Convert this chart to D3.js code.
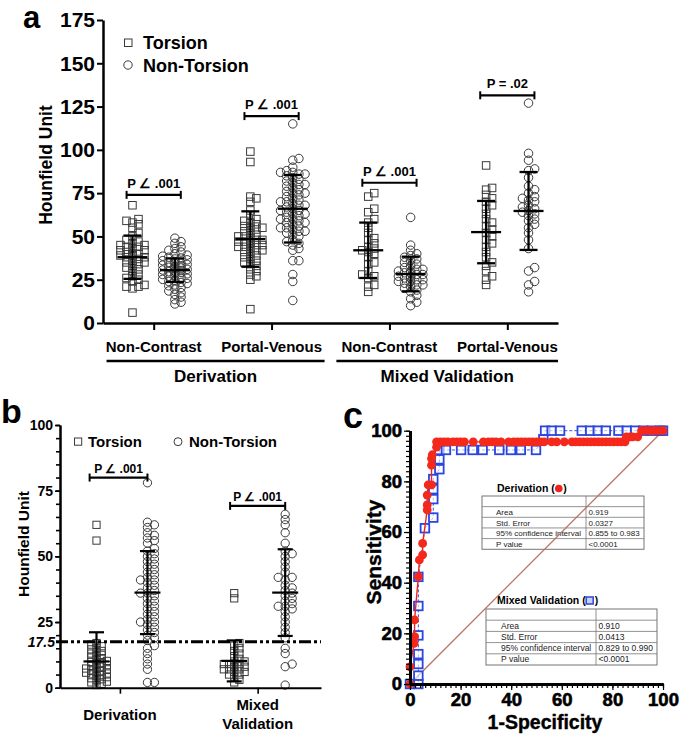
<!DOCTYPE html>
<html><head><meta charset="utf-8">
<script src="https://cdn.jsdelivr.net/npm/d3@7"></script>
<style>body{margin:0;background:#fff} svg text{font-family:"Liberation Sans",Arial,sans-serif}</style>
</head><body><script>
// ---------------- DATA ----------------
// Panel a: categories
const aGroupLabels = ["Non-Contrast","Portal-Venous","Non-Contrast","Portal-Venous"];
const aCohortLabels = ["Derivation","Mixed Validation"];
const aYTicks = [0,25,50,75,100,125,150,175];
// Panel a: Torsion values per group
const aTorsionDerivNC = [6,20,21,21,22,24,25,26,27,28,30,31,32,33,34,35,35,36,37,38,38,39,39,40,40,41,42,42,43,44,44,45,45,46,47,48,50,52,55,57,58,59,60,68];
const aTorsionDerivPV = [8,25,27,28,30,31,33,34,35,36,37,38,39,40,41,42,42,43,44,44,45,45,46,46,47,47,48,48,49,50,50,51,52,53,54,55,55,56,57,58,59,60,62,65,70,72,73,93,99];
const aTorsionMixNC = [18,21,22,26,27,28,30,34,35,38,40,41,42,43,44,46,48,49,52,55,58,60,64,66,73,75];
const aTorsionMixPV = [22,25,27,30,33,35,38,41,44,46,48,50,52,54,56,58,60,63,66,68,70,72,74,77,78,91];
// Panel a: Non-Torsion values per group
const aNonDerivNC = [11,12,13.5,15,16.5,17.5,18.5,19.5,20.5,21.5,22,22.8,23.4,24,24.6,25.2,25.8,26.4,27,27.5,28,28.4,28.8,29.2,29.6,30,30.3,30.6,31,31.4,31.8,32.2,32.6,33,33.4,33.8,34.2,34.6,35,35.5,36,36.5,37,37.5,38,38.6,39.2,40,41,42,43,44,46,47,49];
const aNonDerivPV = [13,24,28,36,36,42,43,45,46,47,48,50,51,52,53,53,54,55,55,56,57,58,58,59,60,60,61,62,63,63,64,65,65,66,67,68,68,69,70,70,71,72,73,74,75,75,76,77,78,79,80,80,81,82,83,84,85,86,86,87,87,88,90,94,95,115];
const aNonMixNC = [10,12,14,16,18,19,20,21,22,22,23,24,24,25,25,26,26,27,27,28,28,29,29,30,30,31,31,32,33,34,35,36,37,38,39,40,42,45,61];
const aNonMixPV = [18,22,24,30,32,43,48,52,55,57,59,60,62,63,64,65,66,67,68,70,71,72,73,75,77,79,84,88,89,94,98,127];
// Panel a: mean and SD
const aTorsionMean = [38,48.5,42,52.5];
const aTorsionSD   = [12.5,16,16,18];
const aNonMean     = [30.5,66,28.3,64.7];
const aNonSD       = [6.8,19.5,10,22.5];
const aBracketY    = [74,119.5,81,131.5];
const aPLabels     = ["P \u2220 .001","P \u2220 .001","P \u2220 .001","P = .02"];

// Panel b
const bGroupLabels = [["Derivation"],["Mixed","Validation"]];
const bYTicks = [0,25,50,75,100];
const bThreshold = 17.5;
const bTorsionDeriv = [1,1.5,2,2.3,2.8,3.2,3.6,4,4.4,4.8,5.1,5.4,5.7,6,6.3,6.6,7,7.3,7.6,8,8.3,8.6,9,9.4,9.8,10.2,10.6,11,11.5,12,12.5,13,13.5,14,14.6,15.2,15.8,16.4,17,56,62];
const bNonDeriv = [2,2,7,9,11,13,15,16,18,19,20,21,22,23,24,25,25,26,27,28,29,30,31,32,33,34,35,36,36,37,38,39,40,41,41,42,43,44,45,46,47,48,49,50,51,52,53,55,56,57,58,59,61,62,63,78];
const bTorsionMix = [2,3,4,5,5,6,6,7,7,7,8,8,8,9,9,9,10,10,11,12,13,14,15,16,17,34,36];
const bNonMix = [1,8,9,13,15,19,21,23,25,27,29,30,31,31,32,33,34,35,36,37,38,39,41,42,42,44,46,48,50,51,52,55,59,62,64,66];
const bTorsionMean = [10,10.2];
const bTorsionSD   = [11.1,7.8];
const bNonMean     = [36.2,36.2];
const bNonSD       = [15.8,16.5];
const bBracketY    = [80,69.2];
const bPLabels     = ["P \u2220 .001","P \u2220 .001"];

// Panel c: ROC curves [1-specificity, sensitivity]
const cTicks = [0,20,40,60,80,100];
const cDerivX = [0,0,1.6,1.8,1.8,3.3,3.7,5,5,6.8,6.8,6.8,7.2,8.5,8.5,8.5,8.8,10.5,10.5,12,13.5,15,17,18.5,20,21.5,25,29,31,32.5,34,36,39,41,42.5,44,45.5,47,48.5,50,51.5,53,56,58,61,64,65.5,67,68.5,70,71.5,73,74.5,76,77.5,79,80.5,82,83.5,85,85.5,87,88,90,91.5,93,94.5,96,97,98.5,100];
const cDerivY = [0,6.8,16,18.7,25.3,42.4,49,51,55.5,68.7,70.7,74.6,78.6,78.6,86.4,89,90.5,93.5,95.6,95.6,95.6,95.6,95.6,95.6,95.6,95.6,95.6,95.6,95.6,95.6,95.6,95.6,95.6,95.6,95.6,95.6,95.6,95.6,95.6,95.6,95.6,95.6,95.6,95.6,95.6,95.6,95.6,95.6,95.6,95.6,95.6,95.6,95.6,95.6,95.6,95.6,95.6,95.6,95.6,95.6,97.6,97.6,97.6,97.6,100,100,100,100,100,100,100];
const cMixX = [0,3.3,3.3,3.3,3.3,3.3,3.3,3.3,5.9,9.2,9.2,9.2,9.2,11.6,11.6,11.6,14.2,20.2,24.8,28.7,35.3,39.9,43.8,49.8,52.7,53.4,56,59.3,67.9,71.2,74.2,77.4,82.4,85.7,89,92.2,95.5,98.8,100];
const cMixY = [0,0,3.3,7.9,11.8,19.2,30.8,42.3,61.5,65.7,73,76.9,80.9,84.8,88.7,92.4,92.4,92.4,92.4,92.4,92.4,92.4,92.4,92.4,96.6,100,100,100,100,100,100,100,100,100,100,100,100,100,100];
const cDerivTitle = "Derivation (";
const cMixTitle = "Mixed Validation (";
const cDerivTable = [["",""],["Area","0.919"],["Std. Error","0.0327"],["95% confidence interval","0.855 to 0.983"],["P value","<0.0001"]];
const cMixTable = [["",""],["Area","0.910"],["Std. Error","0.0413"],["95% confidence interval","0.829 to 0.990"],["P value","<0.0001"]];

// ---------------- DRAWING ----------------
const svg = d3.select("body").append("svg").attr("width",685).attr("height",734);
const MK = "#3a3a3a";

function swarm(values, yScale, size, thrY, thrX, stepF, maxOff) {
  const pts = values.map(v => ({v, y: yScale(v)})).sort((a,b)=>b.y-a.y);
  const placed = [];
  const ty = size*thrY, tx = size*thrX, step = size*stepF;
  pts.forEach(p => {
    let best = 0, bestHits = Infinity;
    for (let k=0;k<80;k++){
      const off = k===0 ? 0 : (k%2 ? 1 : -1)*Math.ceil(k/2)*step;
      if (Math.abs(off) > maxOff) break;
      const hits = placed.filter(q => Math.abs(q.y-p.y) < ty && Math.abs(q.dx-off) < tx).length;
      if (hits < bestHits) { bestHits = hits; best = off; }
      if (hits === 0) break;
    }
    p.dx = best;
    placed.push(p);
  });
  return placed;
}
function drawMarkers(g, pts, cx, shape, size, color, sw, fill) {
  if (shape === "square") {
    g.selectAll(null).data(pts).join("rect")
      .attr("x", d=>cx+d.dx-size/2).attr("y", d=>d.y-size/2)
      .attr("width", size).attr("height", size)
      .attr("fill", fill||"none").attr("stroke", color).attr("stroke-width", sw);
  } else {
    g.selectAll(null).data(pts).join("circle")
      .attr("cx", d=>cx+d.dx).attr("cy", d=>d.y).attr("r", size/2)
      .attr("fill", fill||"none").attr("stroke", color).attr("stroke-width", sw);
  }
}
function errBar(g, cx, yScale, mean, sd, meanW, capW, sw) {
  const lo = Math.max(mean-sd, yScale.domain()[0]);
  const yT = yScale(mean+sd), yB = yScale(lo), yM = yScale(mean);
  g.append("line").attr("x1",cx).attr("x2",cx).attr("y1",yT).attr("y2",yB).attr("stroke","#000").attr("stroke-width",sw);
  g.append("line").attr("x1",cx-capW/2).attr("x2",cx+capW/2).attr("y1",yT).attr("y2",yT).attr("stroke","#000").attr("stroke-width",sw);
  if (mean-sd >= yScale.domain()[0])
    g.append("line").attr("x1",cx-capW/2).attr("x2",cx+capW/2).attr("y1",yB).attr("y2",yB).attr("stroke","#000").attr("stroke-width",sw);
  g.append("line").attr("x1",cx-meanW/2).attr("x2",cx+meanW/2).attr("y1",yM).attr("y2",yM).attr("stroke","#000").attr("stroke-width",sw);
}
function bracket(g, x1, x2, y, label, fs, gap) {
  g.append("line").attr("x1",x1).attr("x2",x2).attr("y1",y).attr("y2",y).attr("stroke","#000").attr("stroke-width",2.2);
  [x1,x2].forEach(x=>g.append("line").attr("x1",x).attr("x2",x).attr("y1",y-4).attr("y2",y+4).attr("stroke","#000").attr("stroke-width",2));
  g.append("text").attr("x",(x1+x2)/2).attr("y",y-gap).attr("text-anchor","middle")
    .attr("font-size",fs).attr("font-weight","bold").text(label);
}
function styleAxis(g, sw, fs) {
  g.select(".domain").attr("stroke","#000").attr("stroke-width",sw);
  g.selectAll(".tick line").attr("stroke","#000").attr("stroke-width",sw*0.8);
  g.selectAll(".tick text").attr("font-size",fs).attr("font-weight","bold").attr("fill","#000")
    .attr("font-family",'"Liberation Sans",Arial,sans-serif');
}

// ===== Panel a =====
{
  const g = svg.append("g");
  const x = d3.scaleLinear().domain([-0.43,3.43]).range([103,558]);
  const y = d3.scaleLinear().domain([0,175]).range([323,20]);
  const torsion = [aTorsionDerivNC,aTorsionDerivPV,aTorsionMixNC,aTorsionMixPV];
  const non = [aNonDerivNC,aNonDerivPV,aNonMixNC,aNonMixPV];
  const off = 0.18;
  torsion.forEach((vals,i)=>{
    drawMarkers(g, swarm(vals,y,7.5,0.55,0.75,0.4,15), x(i-off), "square", 7.5, MK, 1);
    drawMarkers(g, swarm(non[i],y,8.5,0.5,0.72,0.36,15), x(i+off), "circle", 8.5, MK, 1);
    errBar(g, x(i-off), y, aTorsionMean[i], aTorsionSD[i], 30, 18, 2.3);
    errBar(g, x(i+off), y, aNonMean[i], aNonSD[i], 30, 18, 2.3);
    bracket(g, x(i-0.23), x(i+0.23), y(aBracketY[i]), aPLabels[i], 13, 7);
  });
  const ya = g.append("g").attr("transform","translate(103,0)")
    .call(d3.axisLeft(y).tickValues(aYTicks).tickSize(6).tickSizeOuter(0).tickPadding(2));
  styleAxis(ya, 2.5, 21);
  const xa = g.append("g").attr("transform","translate(0,323)")
    .call(d3.axisBottom(x).tickValues([0,1,2,3]).tickFormat("").tickSize(7).tickSizeOuter(0));
  styleAxis(xa, 2.5, 12);
  aGroupLabels.forEach((t,i)=>g.append("text").attr("x",x(i)).attr("y",352).attr("text-anchor","middle")
    .attr("font-size",15).attr("font-weight","bold").text(t));
  const cohortSpans = [[-0.4,1.45],[1.55,3.43]];
  aCohortLabels.forEach((t,i)=>{
    const x1=x(cohortSpans[i][0]), x2=x(cohortSpans[i][1]);
    g.append("line").attr("x1",x1).attr("x2",x2).attr("y1",361).attr("y2",361).attr("stroke","#000").attr("stroke-width",2.5);
    g.append("text").attr("x",(x1+x2)/2).attr("y",382).attr("text-anchor","middle")
      .attr("font-size",17).attr("font-weight","bold").text(t);
  });
  g.append("text").attr("transform","translate(52,165) rotate(-90)").attr("text-anchor","middle")
    .attr("font-size",17.5).attr("font-weight","bold").text("Hounfield Unit");
  g.append("rect").attr("x",124.5).attr("y",39).attr("width",7.5).attr("height",7.5).attr("fill","none").attr("stroke",MK);
  g.append("text").attr("x",143).attr("y",49).attr("font-size",18).attr("font-weight","bold").text("Torsion");
  g.append("circle").attr("cx",128).attr("cy",65).attr("r",4.2).attr("fill","none").attr("stroke",MK);
  g.append("text").attr("x",143).attr("y",72).attr("font-size",18).attr("font-weight","bold").text("Non-Torsion");
  g.append("text").attr("x",23).attr("y",28).attr("font-size",31).attr("font-weight","bold").text("a");
}

// ===== Panel b =====
{
  const g = svg.append("g");
  const x = d3.scaleLinear().domain([-0.435,1.46]).range([60,321]);
  const y = d3.scaleLinear().domain([0,100]).range([687.7,425]);
  const torsion = [bTorsionDeriv,bTorsionMix];
  const non = [bNonDeriv,bNonMix];
  torsion.forEach((vals,i)=>{
    drawMarkers(g, swarm(vals,y,7.2,0.5,0.72,0.36,15), x(i-0.17), "square", 7.2, MK, 1);
    drawMarkers(g, swarm(non[i],y,8.3,0.6,0.8,0.42,16), x(i+0.2), "circle", 8.3, MK, 1);
    errBar(g, x(i-0.17), y, bTorsionMean[i], bTorsionSD[i], 26, 15, 2.2);
    errBar(g, x(i+0.2), y, bNonMean[i], bNonSD[i], 26, 15, 2.2);
  });
  bracket(g, x(-0.22), x(0.2), y(bBracketY[0]), bPLabels[0], 12, 5);
  bracket(g, x(0.8), x(1.2), y(bBracketY[1]), bPLabels[1], 12, 5);
  g.append("line").attr("x1",56).attr("x2",321).attr("y1",y(bThreshold)).attr("y2",y(bThreshold))
    .attr("stroke","#000").attr("stroke-width",2.8).attr("stroke-dasharray","12,3,3,3,3,3");
  const minor = g.append("g").attr("transform","translate(60,0)")
    .call(d3.axisLeft(y).tickValues(d3.range(0,101,5)).tickFormat("").tickSize(4).tickSizeOuter(0));
  styleAxis(minor, 2, 10);
  const ya = g.append("g").attr("transform","translate(60,0)")
    .call(d3.axisLeft(y).tickValues(bYTicks).tickSize(5).tickSizeOuter(0).tickPadding(2));
  styleAxis(ya, 2, 14);
  g.append("text").attr("x",55).attr("y",y(bThreshold)).attr("dy","0.35em").attr("text-anchor","end")
    .attr("font-size",14).attr("font-weight","bold").attr("font-style","italic").text(String(bThreshold));
  const xa = g.append("g").attr("transform","translate(0,687.7)")
    .call(d3.axisBottom(x).tickValues([0,1]).tickFormat("").tickSize(6).tickSizeOuter(0));
  styleAxis(xa, 2, 12);
  bGroupLabels.forEach((lines,i)=>{
    const ys = lines.length===1 ? [720] : [710,729];
    lines.forEach((t,j)=>g.append("text").attr("x",x(i)).attr("y",ys[j]).attr("text-anchor","middle")
      .attr("font-size",15).attr("font-weight","bold").text(t));
  });
  g.append("text").attr("transform","translate(29,544) rotate(-90)").attr("text-anchor","middle")
    .attr("font-size",15.5).attr("font-weight","bold").text("Hounfield Unit");
  g.append("rect").attr("x",74.5).attr("y",438).attr("width",7.2).attr("height",7.2).attr("fill","none").attr("stroke",MK);
  g.append("text").attr("x",88).attr("y",447).attr("font-size",15).attr("font-weight","bold").text("Torsion");
  g.append("circle").attr("cx",178).attr("cy",441.7).attr("r",4).attr("fill","none").attr("stroke",MK);
  g.append("text").attr("x",189).attr("y",447).attr("font-size",15).attr("font-weight","bold").text("Non-Torsion");
  g.append("text").attr("x",1).attr("y",423).attr("font-size",34).attr("font-weight","bold").text("b");
}

// ===== Panel c =====
{
  const g = svg.append("g");
  const x = d3.scaleLinear().domain([0,100]).range([410,663]);
  const y = d3.scaleLinear().domain([0,100]).range([684,430.7]);
  function table(x0,x1,xDiv,y0,rowH,rows,fs,padL){
    const tg = g.append("g");
    const h = rowH*rows.length;
    tg.append("rect").attr("x",x0).attr("y",y0).attr("width",x1-x0).attr("height",h)
      .attr("fill","none").attr("stroke","#666").attr("stroke-width",0.9);
    rows.forEach((r,i)=>{
      if (i>0) tg.append("line").attr("x1",x0).attr("x2",x1).attr("y1",y0+i*rowH).attr("y2",y0+i*rowH).attr("stroke","#777").attr("stroke-width",0.8);
      const yy = y0+i*rowH+rowH/2;
      tg.append("text").attr("x",x0+padL).attr("y",yy).attr("dy","0.36em").attr("font-size",fs).attr("fill","#222").text(r[0]);
      tg.append("text").attr("x",xDiv+2.5).attr("y",yy).attr("dy","0.36em").attr("font-size",fs).attr("fill","#222").text(r[1]);
    });
    tg.append("line").attr("x1",xDiv).attr("x2",xDiv).attr("y1",y0).attr("y2",y0+h).attr("stroke","#777").attr("stroke-width",0.8);
  }
  table(482,644,586,496,10.65,cDerivTable,8,14);
  table(486,657,596,609,11.2,cMixTable,8.5,15);
  const t1 = g.append("text").attr("x",497).attr("y",492).attr("font-size",10.5).attr("font-weight","bold").text(cDerivTitle);
  const w1 = t1.node().getComputedTextLength();
  g.append("circle").attr("cx",497+w1+4).attr("cy",488.5).attr("r",3.8).attr("fill","#f0231b");
  g.append("text").attr("x",497+w1+8.5).attr("y",492).attr("font-size",10.5).attr("font-weight","bold").text(")");
  const t2 = g.append("text").attr("x",497).attr("y",604).attr("font-size",10.5).attr("font-weight","bold").text(cMixTitle);
  const w2 = t2.node().getComputedTextLength();
  g.append("rect").attr("x",497+w2+0.5).attr("y",597).attr("width",7).attr("height",7).attr("fill","#c8d0f5").attr("stroke","#2b45d8").attr("stroke-width",1.5);
  g.append("text").attr("x",497+w2+9).attr("y",604).attr("font-size",10.5).attr("font-weight","bold").text(")");
  g.append("line").attr("x1",x(0)).attr("y1",y(0)).attr("x2",x(100)).attr("y2",y(100))
    .attr("stroke","#b87560").attr("stroke-width",1.3);
  const mix = cMixX.map((v,i)=>[v,cMixY[i]]);
  const der = cDerivX.map((v,i)=>[v,cDerivY[i]]);
  const line = d3.line().x(d=>x(d[0])).y(d=>y(d[1]));
  g.append("path").attr("d",line(mix)).attr("fill","none").attr("stroke","#3355dd").attr("stroke-width",1).attr("stroke-dasharray","3,2");
  g.selectAll(null).data(mix).join("rect")
    .attr("x",d=>x(d[0])-4.3).attr("y",d=>y(d[1])-4.3).attr("width",8.6).attr("height",8.6)
    .attr("fill","#fff").attr("fill-opacity",0.6).attr("stroke","#2b45e0").attr("stroke-width",1.8);
  g.append("path").attr("d",line(der)).attr("fill","none").attr("stroke","#f0231b").attr("stroke-width",1.4);
  g.selectAll(null).data(der).join("circle")
    .attr("cx",d=>x(d[0])).attr("cy",d=>y(d[1])).attr("r",4.4).attr("fill","#f5281c");
  const yMinor = g.append("g").attr("transform","translate(410,0)")
    .call(d3.axisLeft(y).tickValues(d3.range(0,101,2)).tickFormat("").tickSize(4).tickSizeOuter(0));
  styleAxis(yMinor, 3, 10);
  const ya = g.append("g").attr("transform","translate(410,0)")
    .call(d3.axisLeft(y).tickValues(cTicks).tickSize(6).tickSizeOuter(0).tickPadding(2));
  styleAxis(ya, 3, 18.5);
  const xMinor = g.append("g").attr("transform","translate(0,684)")
    .call(d3.axisBottom(x).tickValues(d3.range(0,101,2)).tickFormat("").tickSize(4).tickSizeOuter(0));
  styleAxis(xMinor, 3, 10);
  const xa = g.append("g").attr("transform","translate(0,684)")
    .call(d3.axisBottom(x).tickValues(cTicks).tickSize(6).tickSizeOuter(0).tickPadding(3));
  styleAxis(xa, 3, 18.5);
  [ya, xa].forEach(a=>a.selectAll(".tick text").attr("stroke","#000").attr("stroke-width",0.6));
  g.selectAll(".tick line").attr("stroke-width",1.2);
  g.append("text").attr("x",545).attr("y",729).attr("text-anchor","middle")
    .attr("font-size",19.5).attr("font-weight","bold").attr("stroke","#000").attr("stroke-width",0.4).text("1-Specificity");
  g.append("text").attr("transform","translate(381,552) rotate(-90)").attr("text-anchor","middle")
    .attr("font-size",21).attr("font-weight","bold").attr("stroke","#000").attr("stroke-width",0.4).text("Sensitivity");
  g.append("text").attr("x",343).attr("y",428).attr("font-size",36).attr("font-weight","bold").text("c");
}
</script></body></html>
